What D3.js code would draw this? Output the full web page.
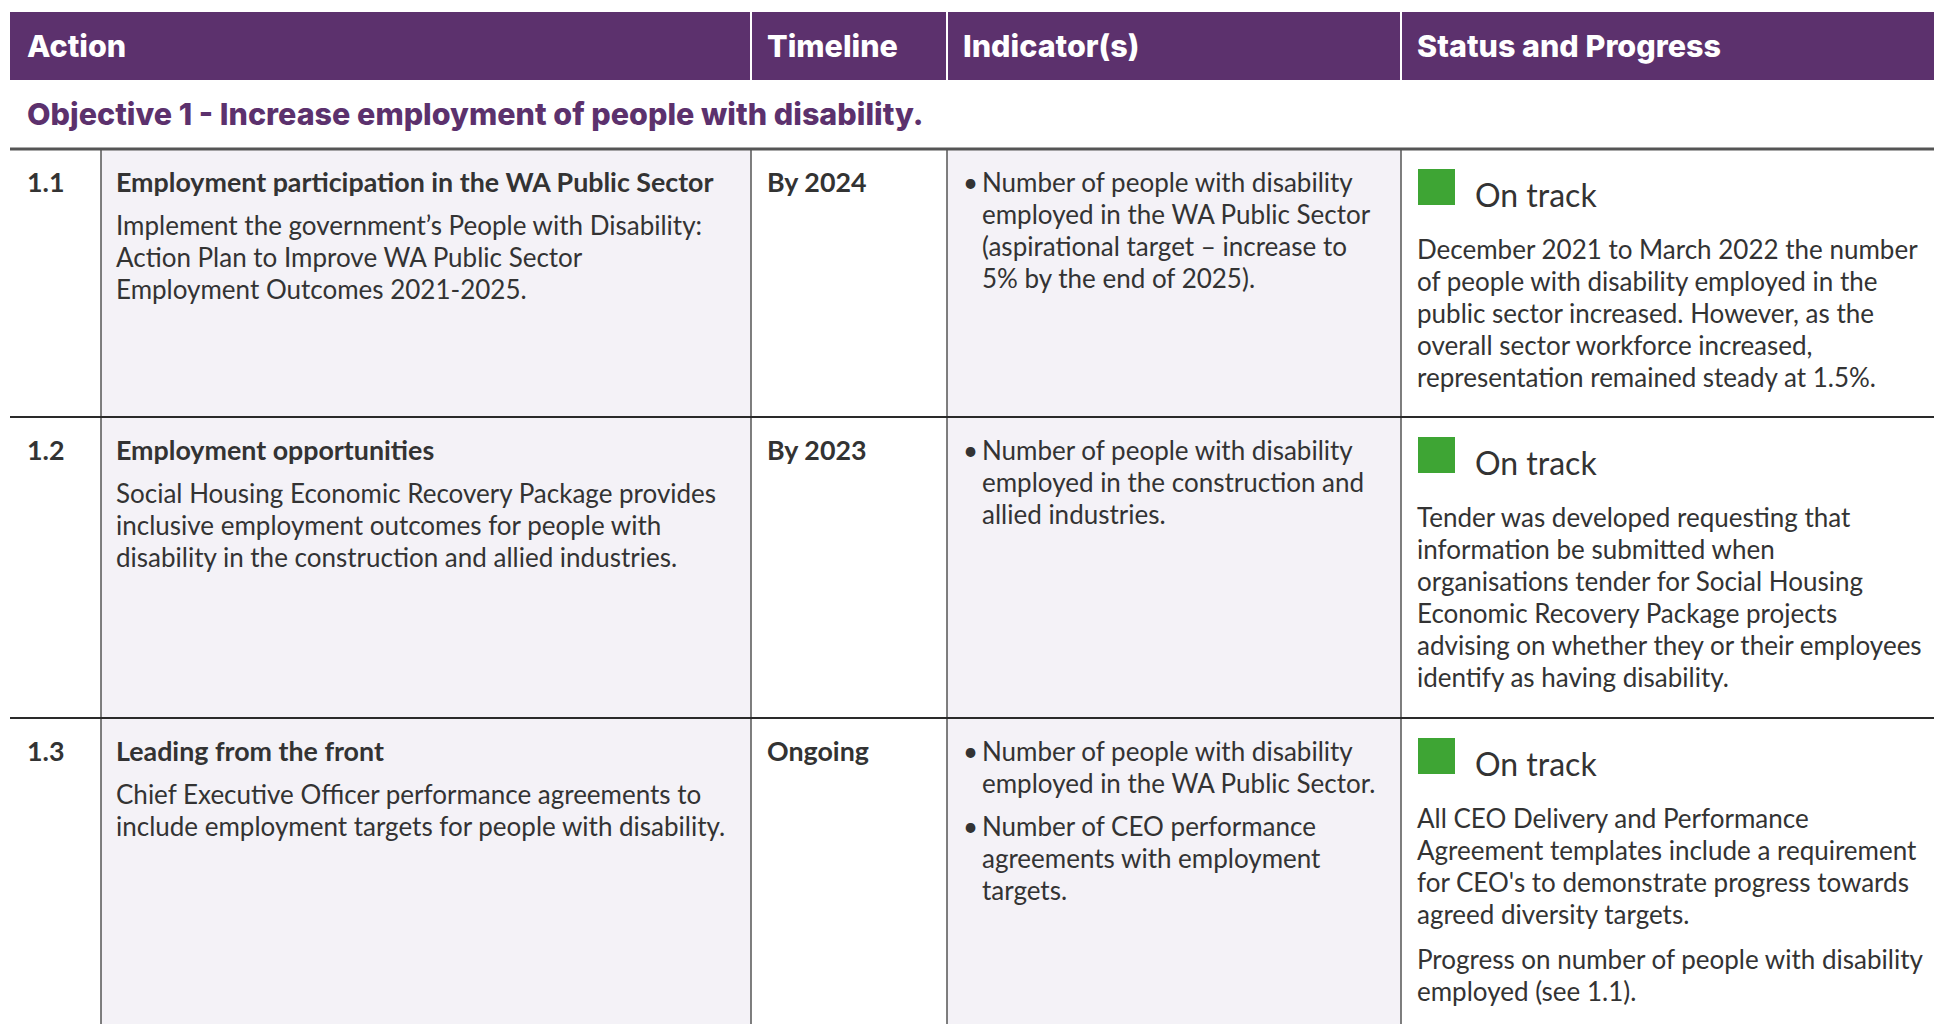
<!DOCTYPE html>
<html>
<head>
<meta charset="utf-8">
<script src="https://cdn.jsdelivr.net/npm/d3@7"></script>
<style>
  html, body { margin: 0; padding: 0; background: #ffffff; }
  svg { display: block; }
</style>
</head>
<body>
<svg id="chart" width="1934" height="1024"></svg>
<script>
// ---------- DATA ----------
const headers = ["Action", "Timeline", "Indicator(s)", "Status and Progress"];
const objective = "Objective 1 - Increase employment of people with disability.";
const actionIds = ["1.1", "1.2", "1.3"];
const actionTitles = [
  "Employment participation in the WA Public Sector",
  "Employment opportunities",
  "Leading from the front"
];
const actionDescriptions = [
  ["Implement the government\u2019s People with Disability:",
   "Action Plan to Improve WA Public Sector",
   "Employment Outcomes 2021-2025."],
  ["Social Housing Economic Recovery Package provides",
   "inclusive employment outcomes for people with",
   "disability in the construction and allied industries."],
  ["Chief Executive Officer performance agreements to",
   "include employment targets for people with disability."]
];
const timelines = ["By 2024", "By 2023", "Ongoing"];
const indicators = [
  [["Number of people with disability",
    "employed in the WA Public Sector",
    "(aspirational target \u2013 increase to",
    "5% by the end of 2025)."]],
  [["Number of people with disability",
    "employed in the construction and",
    "allied industries."]],
  [["Number of people with disability",
    "employed in the WA Public Sector."],
   ["Number of CEO performance",
    "agreements with employment",
    "targets."]]
];
const statuses = ["On track", "On track", "On track"];
const statusNotes = [
  [["December 2021 to March 2022 the number",
    "of people with disability employed in the",
    "public sector increased. However, as the",
    "overall sector workforce increased,",
    "representation remained steady at 1.5%."]],
  [["Tender was developed requesting that",
    "information be submitted when",
    "organisations tender for Social Housing",
    "Economic Recovery Package projects",
    "advising on whether they or their employees",
    "identify as having disability."]],
  [["All CEO Delivery and Performance",
    "Agreement templates include a requirement",
    "for CEO's to demonstrate progress towards",
    "agreed diversity targets."],
   ["Progress on number of people with disability",
    "employed (see 1.1)."]]
];

// ---------- LAYOUT ----------
const W = 1934, H = 1024;
const purple = "#5c316d";
const lavender = "#f4f2f7";
const textCol = "#333333";
const green = "#3ea534";
const headFont = "Inter, 'Open Sans', sans-serif";
const bodyFont = "Lato, 'Open Sans', sans-serif";
const bodySize = 26;
const boldSize = 26.8;

const colEdges = [10, 101, 751, 947, 1401, W];   // number | action | timeline | indicators | status
const rowTops = [149, 417, 718, 1100];
const lineH = 32;

const svg = d3.select("#chart");

const rowScale = d3.scaleOrdinal().domain(d3.range(4)).range(rowTops);
const colScale = d3.scaleOrdinal().domain(d3.range(6)).range(colEdges);

// header band
svg.append("rect")
  .attr("x", colScale(0)).attr("y", 12)
  .attr("width", W - colScale(0)).attr("height", 68)
  .attr("fill", purple);

const headerX = [27, 767, 963, 1417];
svg.selectAll("text.head").data(headers).join("text")
  .attr("class", "head")
  .attr("x", (d, i) => headerX[i]).attr("y", 45)
  .attr("dominant-baseline", "central")
  .attr("fill", "#ffffff")
  .attr("font-family", headFont).attr("font-weight", 800).attr("font-size", 30.5)
  .text(d => d);

svg.selectAll("line.headsep").data([2, 3, 4]).join("line")
  .attr("class", "headsep")
  .attr("x1", d => colScale(d)).attr("x2", d => colScale(d))
  .attr("y1", 12).attr("y2", 80)
  .attr("stroke", "#ffffff").attr("stroke-width", 2);

// objective title
svg.append("text")
  .attr("x", 27).attr("y", 113)
  .attr("dominant-baseline", "central")
  .attr("fill", purple)
  .attr("font-family", headFont).attr("font-weight", 800).attr("font-size", 30.5)
  .text(objective);

// column backgrounds
svg.selectAll("rect.colbg").data([1, 3]).join("rect")
  .attr("class", "colbg")
  .attr("x", d => colScale(d)).attr("y", rowScale(0))
  .attr("width", d => colScale(d + 1) - colScale(d))
  .attr("height", H - rowScale(0))
  .attr("fill", lavender);

// column separators
svg.selectAll("line.colsep").data([1, 2, 3, 4]).join("line")
  .attr("class", "colsep")
  .attr("x1", d => colScale(d)).attr("x2", d => colScale(d))
  .attr("y1", rowScale(0)).attr("y2", H)
  .attr("stroke", "#555555").attr("stroke-width", 1.5);

// row separators
svg.selectAll("line.rowsep").data([1, 2]).join("line")
  .attr("class", "rowsep")
  .attr("x1", colScale(0)).attr("x2", W)
  .attr("y1", d => rowScale(d)).attr("y2", d => rowScale(d))
  .attr("stroke", "#2a2a2a").attr("stroke-width", 2);

svg.append("line")
  .attr("x1", colScale(0)).attr("x2", W)
  .attr("y1", rowScale(0)).attr("y2", rowScale(0))
  .attr("stroke", "#555555").attr("stroke-width", 3);

// rows
const rows = svg.selectAll("g.row").data(d3.range(actionIds.length)).join("g")
  .attr("class", "row")
  .attr("transform", i => `translate(0,${rowScale(i)})`);

const firstY = 33;

rows.append("text")
  .attr("x", 27).attr("y", firstY).attr("dominant-baseline", "central")
  .attr("fill", textCol).attr("font-family", bodyFont).attr("font-weight", 700).attr("font-size", boldSize)
  .text(i => actionIds[i]);

rows.append("text")
  .attr("x", 116).attr("y", firstY).attr("dominant-baseline", "central")
  .attr("fill", textCol).attr("font-family", bodyFont).attr("font-weight", 700).attr("font-size", boldSize)
  .text(i => actionTitles[i]);

rows.each(function (i) {
  const g = d3.select(this);
  // description
  g.selectAll("text.desc").data(actionDescriptions[i]).join("text")
    .attr("class", "desc")
    .attr("x", 116).attr("y", (d, k) => firstY + 43 + k * lineH)
    .attr("dominant-baseline", "central")
    .attr("fill", textCol).attr("font-family", bodyFont).attr("font-size", bodySize)
    .text(d => d);

  // indicators (bulleted paragraphs)
  let y = firstY;
  indicators[i].forEach(par => {
    g.append("text")
      .attr("x", 963).attr("y", y).attr("dominant-baseline", "central")
      .attr("fill", textCol).attr("font-family", bodyFont).attr("font-size", bodySize)
      .text("\u2022");
    par.forEach((line, k) => {
      g.append("text")
        .attr("x", 982).attr("y", y + k * lineH).attr("dominant-baseline", "central")
        .attr("fill", textCol).attr("font-family", bodyFont).attr("font-size", bodySize)
        .text(line);
    });
    y += par.length * lineH + 11;
  });

  // status
  g.append("rect")
    .attr("x", 1418).attr("y", 20).attr("width", 37).attr("height", 36)
    .attr("fill", green);
  g.append("text")
    .attr("x", 1475).attr("y", 45).attr("dominant-baseline", "central")
    .attr("fill", textCol).attr("font-family", bodyFont).attr("font-size", 32)
    .text(statuses[i]);

  let sy = 100;
  statusNotes[i].forEach(par => {
    par.forEach((line, k) => {
      g.append("text")
        .attr("x", 1417).attr("y", sy + k * lineH).attr("dominant-baseline", "central")
        .attr("fill", textCol).attr("font-family", bodyFont).attr("font-size", bodySize)
        .text(line);
    });
    sy += par.length * lineH + 13;
  });

  g.append("text")
    .attr("x", 767).attr("y", firstY).attr("dominant-baseline", "central")
    .attr("fill", textCol).attr("font-family", bodyFont).attr("font-weight", 700).attr("font-size", boldSize)
    .text(timelines[i]);
});
</script>
</body>
</html>
